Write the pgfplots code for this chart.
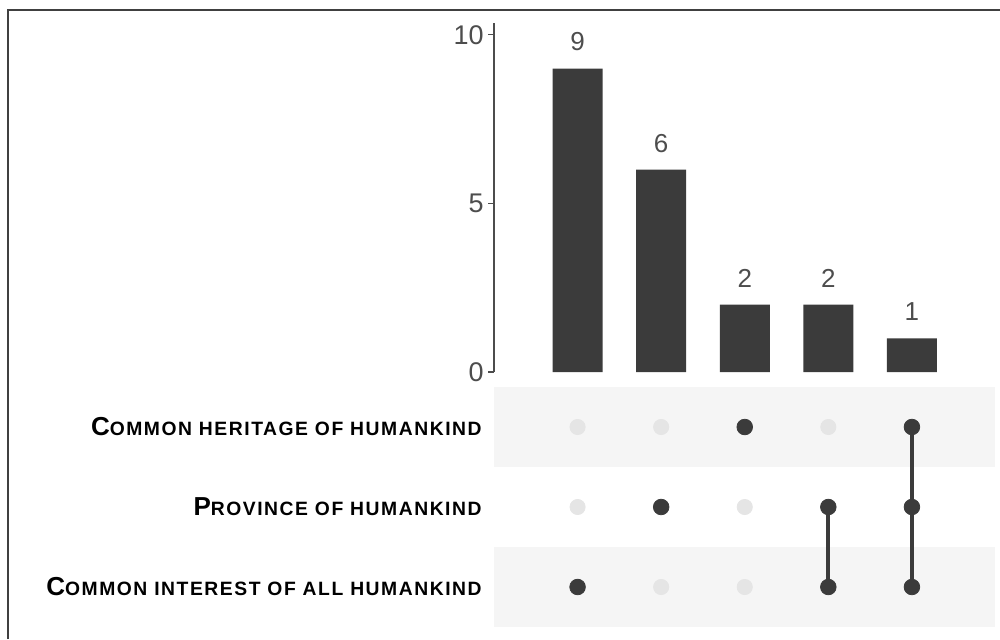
\documentclass[border=0pt]{standalone}
\usepackage{pgfplots}
\pgfplotsset{compat=1.18}
\usepackage{fontspec}
\setmainfont{Liberation Sans}
\newfontfamily\lblfont[LetterSpace=8]{Liberation Sans}
\definecolor{bardark}{RGB}{59,59,59}
\definecolor{dotoff}{RGB}{229,229,229}
\definecolor{band}{RGB}{245,245,245}
\definecolor{ticktxt}{RGB}{77,77,77}
\newcommand{\sct}[2]{{\lblfont\bfseries{\fontsize{13pt}{13pt}\selectfont #1}{\fontsize{9.65pt}{10pt}\selectfont #2}}}
\begin{document}
\begin{tikzpicture}
\useasboundingbox (0,0) rectangle (500pt,319.5pt);
\draw[line width=1pt, black!75] (4pt,0) -- (4pt,314.5pt) -- (500pt,314.5pt);
% bar chart
\begin{axis}[
  at={(247pt,133.5pt)}, anchor=south west, scale only axis,
  width=250.75pt, height=174.5pt,
  xmin=0, xmax=6, ymin=0, ymax=10.35,
  axis x line=none, axis y line=left,
  axis line style={-, draw=black!70, line width=0.6pt},
  ytick={0,5,10}, tick align=outside, major tick length=3pt,
  tick style={draw=black!70, line width=0.6pt},
  yticklabel style={font=\fontsize{13.5pt}{14pt}\selectfont, text=ticktxt, inner sep=1pt, xshift=-1pt},
  /pgf/number format/assume math mode=true,
  clip=false,
]
\addplot[ybar, bar width=25pt, fill=bardark, draw=none,
  nodes near coords, every node near coord/.append style={font=\fontsize{13pt}{14pt}\selectfont, text=ticktxt, anchor=south, inner sep=0pt, yshift=8.5pt}]
  coordinates {(1,9) (2,6) (3,2) (4,2) (5,1)};
\end{axis}
% matrix
\begin{axis}[
  at={(247pt,6pt)}, anchor=south west, scale only axis,
  width=250.75pt, height=120pt,
  xmin=0, xmax=6, ymin=0.5, ymax=3.5,
  xtick=\empty, ytick={1,2,3},
  yticklabels={\sct{C}{OMMON INTEREST OF ALL HUMANKIND},\sct{P}{ROVINCE OF HUMANKIND},\sct{C}{OMMON HERITAGE OF HUMANKIND}},
  yticklabel style={anchor=east, inner sep=0pt, xshift=-6pt},
  axis line style={draw=none}, tick style={draw=none},
  clip=false,
]
\fill[band] (axis cs:0,0.5) rectangle (axis cs:6,1.5);
\fill[band] (axis cs:0,2.5) rectangle (axis cs:6,3.5);
\addplot[dotoff, only marks, mark=*, mark size=3.8pt, mark options={fill=dotoff, draw=dotoff}]
  coordinates {(1,2) (1,3) (2,1) (2,3) (3,1) (3,2) (4,3)};
\addplot[bardark, line width=2pt] coordinates {(4,1) (4,2)};
\addplot[bardark, line width=2pt] coordinates {(5,1) (5,3)};
\addplot[bardark, only marks, mark=*, mark size=3.9pt, mark options={fill=bardark, draw=bardark}]
  coordinates {(1,1) (2,2) (3,3) (4,1) (4,2) (5,1) (5,2) (5,3)};
\end{axis}
\end{tikzpicture}
\end{document}
